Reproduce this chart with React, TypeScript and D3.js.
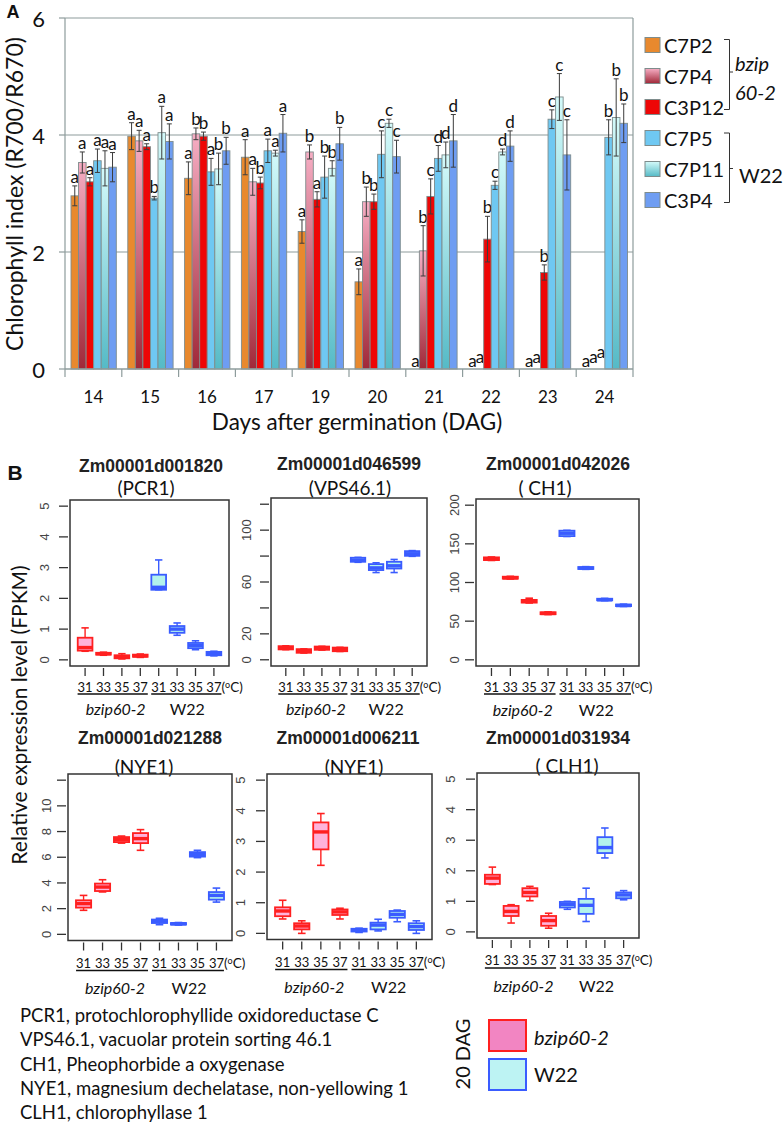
import React from 'react';
import * as d3 from 'd3';

// ---------- Panel A data ----------
const days = ['14', '15', '16', '17', '19', '20', '21', '22', '23', '24'];
const lineNames = ['C7P2', 'C7P4', 'C3P12', 'C7P5', 'C7P11', 'C3P4'];
const c7p2Mean = [2.96, 3.98, 3.26, 3.62, 2.35, 1.49, 0, 0, 0, 0];
const c7p2Err = [0.17, 0.23, 0.28, 0.3, 0.2, 0.22, 0, 0, 0, 0];
const c7p4Mean = [3.53, 3.9, 4.02, 3.2, 3.71, 2.86, 2.02, 0, 0, 0];
const c7p4Err = [0.18, 0.18, 0.1, 0.23, 0.12, 0.25, 0.43, 0, 0, 0];
const c3p12Mean = [3.2, 3.8, 3.98, 3.18, 2.9, 2.86, 2.95, 2.22, 1.65, 0];
const c3p12Err = [0.07, 0.05, 0.07, 0.1, 0.13, 0.13, 0.3, 0.39, 0.13, 0];
const c7p5Mean = [3.56, 2.92, 3.37, 3.73, 3.28, 3.67, 3.6, 3.14, 4.27, 3.96];
const c7p5Err = [0.2, 0.03, 0.23, 0.2, 0.36, 0.4, 0.22, 0.07, 0.16, 0.3];
const c7p11Mean = [3.43, 4.04, 3.42, 3.69, 3.43, 4.2, 3.66, 3.71, 4.65, 4.3];
const c7p11Err = [0.3, 0.45, 0.27, 0.05, 0.13, 0.07, 0.22, 0.05, 0.4, 0.66];
const c3p4Mean = [3.45, 3.89, 3.73, 4.03, 3.85, 3.63, 3.9, 3.81, 3.66, 4.2];
const c3p4Err = [0.25, 0.3, 0.23, 0.32, 0.28, 0.28, 0.45, 0.26, 0.6, 0.33];
const c7p2Sig = ['a', 'a', 'a', 'a', 'a', 'a', 'a', 'a', 'a', 'a'];
const c7p4Sig = ['a', 'a', 'b', 'a', 'b', 'b', 'b', 'a', 'a', 'a'];
const c3p12Sig = ['a', 'a', 'b', 'b', 'a', 'b', 'c', 'b', 'b', 'a'];
const c7p5Sig = ['a', 'b', 'a', 'a', 'b', 'c', 'd', 'c', 'c', 'b'];
const c7p11Sig = ['a', 'a', 'b', 'a', 'b', 'c', 'd', 'd', 'c', 'b'];
const c3p4Sig = ['a', 'a', 'b', 'a', 'b', 'c', 'd', 'd', 'c', 'b'];
const yTicksA = [0, 2, 4, 6];

const means = [c7p2Mean, c7p4Mean, c3p12Mean, c7p5Mean, c7p11Mean, c3p4Mean];
const errs = [c7p2Err, c7p4Err, c3p12Err, c7p5Err, c7p11Err, c3p4Err];
const sigs = [c7p2Sig, c7p4Sig, c3p12Sig, c7p5Sig, c7p11Sig, c3p4Sig];

// ---------- Panel B data: [whiskerLow, q1, median, q3, whiskerHigh] ----------
const temps = ['31', '33', '35', '37', '31', '33', '35', '37'];
const pcr1 = [
  [0.28, 0.3, 0.4, 0.72, 1.04], [0.15, 0.17, 0.2, 0.23, 0.25], [0.03, 0.05, 0.1, 0.15, 0.2], [0.08, 0.1, 0.13, 0.17, 0.19],
  [2.28, 2.28, 2.36, 2.77, 3.25], [0.8, 0.88, 1.0, 1.1, 1.2], [0.33, 0.38, 0.47, 0.55, 0.62], [0.13, 0.15, 0.2, 0.26, 0.28],
];
const vps461 = [
  [7.8, 8.0, 9.3, 10.5, 10.8], [5.2, 5.4, 6.9, 8.2, 8.4], [7.5, 7.7, 9.0, 10.2, 10.4], [6.4, 6.6, 8.0, 9.4, 9.6],
  [75.2, 75.6, 76.9, 78.7, 79.0], [67.3, 69.2, 70.9, 73.8, 74.8], [67.3, 70.4, 72.5, 75.6, 77.4], [79.8, 80.2, 81.8, 83.8, 84.2],
];
const ch1 = [
  [128.5, 129, 130.6, 132.5, 133], [104.5, 105, 106, 107.5, 108], [73.5, 74, 75.6, 77.5, 79.7], [58.5, 59, 60, 61.5, 62],
  [159.5, 160, 163.7, 167, 167.5], [117, 117.5, 118.5, 120, 120.5], [76.5, 77, 77.6, 79, 79.5], [69, 69.5, 70.2, 71.5, 72],
];
const nye1a = [
  [1.87, 2.08, 2.39, 2.65, 3.03], [3.3, 3.37, 3.68, 3.95, 4.25], [7.1, 7.18, 7.37, 7.57, 7.65], [6.54, 7.1, 7.45, 7.88, 8.15],
  [0.75, 0.88, 1.02, 1.15, 1.25], [0.72, 0.76, 0.82, 0.88, 0.92], [5.97, 6.05, 6.23, 6.4, 6.54], [2.51, 2.7, 3.03, 3.29, 3.6],
];
const nye1b = [
  [0.47, 0.56, 0.73, 0.85, 1.08], [0.0, 0.13, 0.24, 0.33, 0.41], [2.22, 2.74, 3.31, 3.62, 3.91], [0.47, 0.6, 0.7, 0.78, 0.82],
  [0.03, 0.06, 0.11, 0.15, 0.17], [0.08, 0.13, 0.27, 0.35, 0.46], [0.38, 0.51, 0.62, 0.73, 0.76], [0.0, 0.11, 0.22, 0.33, 0.41],
];
const clh1 = [
  [1.55, 1.57, 1.76, 1.87, 2.12], [0.29, 0.52, 0.67, 0.85, 0.89], [1.02, 1.16, 1.29, 1.43, 1.49], [0.12, 0.2, 0.37, 0.52, 0.61],
  [0.74, 0.8, 0.9, 0.98, 1.0], [0.34, 0.59, 0.87, 1.08, 1.43], [2.42, 2.58, 2.76, 3.1, 3.4], [1.05, 1.1, 1.21, 1.29, 1.35],
];
const ticks5 = [0, 1, 2, 3, 4, 5];
const ticksVps = [0, 20, 40, 60, 80, 100, 120];
const labelsVps = [0, 20, 60, 100];
const ticksCh1 = [0, 50, 100, 150, 200];
const ticksNye = [0, 2, 4, 6, 8, 10, 12];
const labelsNye = [0, 2, 4, 6, 8, 10];
const geneNotes = [
  'PCR1, protochlorophyllide oxidoreductase C',
  'VPS46.1, vacuolar protein sorting 46.1',
  'CH1, Pheophorbide a oxygenase',
  'NYE1, magnesium dechelatase, non-yellowing 1',
  'CLH1, chlorophyllase 1',
];

const FC = 'Lato, "Open Sans", sans-serif';
const FR = '"Liberation Sans", Arial, sans-serif';
const barFills = ['#E8892E', 'url(#gPink)', '#EE0606', '#6FC8F2', 'url(#gCyan)', '#6E9DF2'];
const RED = '#FF2020';
const PINK = '#FFB3DA';
const BLUE = '#3A5CFF';
const CYAN = '#B3F3EC';

function PanelA() {
  const x = d3.scaleBand<string>().domain(days).range([65, 633]);
  const y = d3.scaleLinear().domain([0, 6]).range([369, 18]);
  const bw = 7.55;
  const off = 6;
  const grid = '#8E9C9C';
  const els: any[] = [];
  days.forEach((d, di) => {
    let zeroK = 0;
    means.forEach((m, si) => {
      const v = m[di];
      const bx = (x(d) as number) + off + si * bw;
      const cx = bx + bw / 2;
      if (v > 0) {
        els.push(<rect key={`b${di}-${si}`} x={bx} y={y(v)} width={bw} height={y(0) - y(v)} fill={barFills[si]} stroke="#7E8C8C" strokeWidth={0.9} />);
        const e = errs[si][di];
        els.push(
          <g key={`e${di}-${si}`} stroke="#3C3C3C" strokeWidth={1}>
            <line x1={cx} x2={cx} y1={y(v + e)} y2={y(v - e)} />
            <line x1={cx - 2.5} x2={cx + 2.5} y1={y(v + e)} y2={y(v + e)} />
            <line x1={cx - 2.5} x2={cx + 2.5} y1={y(v - e)} y2={y(v - e)} />
          </g>
        );
        els.push(<text key={`t${di}-${si}`} x={cx} y={y(v + e) - 3} textAnchor="middle" fontFamily={FC} fontSize={17} fill="#111">{sigs[si][di]}</text>);
      } else {
        els.push(<text key={`t${di}-${si}`} x={cx} y={367 - zeroK * 4.5} textAnchor="middle" fontFamily={FC} fontSize={17} fill="#111">{sigs[si][di]}</text>);
        zeroK++;
      }
    });
  });
  const legY = (i: number) => 45 + i * 31;
  return (
    <g>
      <defs>
        <linearGradient id="gPink" x1="0" y1="0" x2="0" y2="1">
          <stop offset="0" stopColor="#F6AEC4" />
          <stop offset="1" stopColor="#A02838" />
        </linearGradient>
        <linearGradient id="gCyan" x1="0" y1="0" x2="0" y2="1">
          <stop offset="0" stopColor="#D4FAFA" />
          <stop offset="1" stopColor="#55BAC6" />
        </linearGradient>
      </defs>
      {yTicksA.filter((t) => t > 0).map((t) => (
        <line key={`g${t}`} x1={65} x2={633} y1={y(t)} y2={y(t)} stroke={grid} strokeWidth={1.2} />
      ))}
      <line x1={65} x2={65} y1={y(6)} y2={y(0)} stroke={grid} strokeWidth={1.2} />
      <line x1={633} x2={633} y1={y(6)} y2={y(0)} stroke={grid} strokeWidth={1.2} />
      {els}
      <line x1={65} x2={633} y1={y(0)} y2={y(0)} stroke={grid} strokeWidth={1.4} />
      {yTicksA.map((t) => (
        <g key={`yt${t}`}>
          <line x1={59} x2={65} y1={y(t)} y2={y(t)} stroke={grid} strokeWidth={1.2} />
          <text x={45} y={y(t)} textAnchor="end" dominantBaseline="central" fontFamily={FC} fontSize={22} fill="#111">{t}</text>
        </g>
      ))}
      {days.map((d) => (
        <line key={`xt${d}`} x1={x(d) as number} x2={x(d) as number} y1={369} y2={377} stroke={grid} strokeWidth={1.2} />
      ))}
      <line x1={633} x2={633} y1={369} y2={377} stroke={grid} strokeWidth={1.2} />
      {days.map((d) => (
        <text key={`xl${d}`} x={(x(d) as number) + x.bandwidth() / 2} y={396} textAnchor="middle" dominantBaseline="central" fontFamily={FC} fontSize={17} fill="#111">{d}</text>
      ))}
      <text x={357} y={421} textAnchor="middle" dominantBaseline="central" fontFamily={FC} fontSize={22.5} fill="#111">Days after germination (DAG)</text>
      <text transform="translate(14,194) rotate(-90)" textAnchor="middle" dominantBaseline="central" fontFamily={FC} fontSize={23} fill="#111">Chlorophyll index (R700/R670)</text>
      <text x={13} y={12} textAnchor="middle" dominantBaseline="central" fontFamily={FR} fontWeight="bold" fontSize={18} fill="#111">A</text>
      {lineNames.map((n, i) => (
        <g key={`lg${n}`}>
          <rect x={645} y={legY(i) - 7.5} width={15} height={15} fill={barFills[i]} stroke="#7E8C8C" strokeWidth={1} />
          <text x={664} y={legY(i)} dominantBaseline="central" fontFamily={FC} fontSize={20} fill="#111">{n}</text>
        </g>
      ))}
      <path d="M724,39.5 H729.5 V109.5 H724 M729.5,72 H733" fill="none" stroke="#333" strokeWidth={1} />
      <path d="M724,133 H729.5 V202.5 H724 M729.5,168.5 H733" fill="none" stroke="#333" strokeWidth={1} />
      <text x={735} y={63} dominantBaseline="central" fontFamily={FC} fontStyle="italic" fontSize={20} fill="#111">bzip</text>
      <text x={735} y={92} dominantBaseline="central" fontFamily={FC} fontStyle="italic" fontSize={20} fill="#111">60-2</text>
      <text x={739} y={175} dominantBaseline="central" fontFamily={FC} fontSize={20} fill="#111">W22</text>
    </g>
  );
}

type PanelCfg = {
  data: number[][]; title: string; sub: string; titleX: number; subX: number; titleY: number; subY: number;
  x0: number; x1: number; y0: number; y1: number; dom: [number, number]; ticks: number[]; labels: number[]; labOff: number;
  labDy: number; lineDy: number; grpDy: number;
};

const panels: PanelCfg[] = [
  { data: pcr1, title: 'Zm00001d001820', sub: '(PCR1)', titleX: 151, subX: 146, titleY: 466, subY: 487, x0: 70, x1: 229, y0: 500, y1: 666, dom: [-0.2, 5.2], ticks: ticks5, labels: ticks5, labOff: 26, labDy: 21, lineDy: 28, grpDy: 42 },
  { data: vps461, title: 'Zm00001d046599', sub: '(VPS46.1)', titleX: 349, subX: 350, titleY: 464, subY: 487, x0: 271, x1: 427, y0: 498, y1: 666, dom: [-4.8, 124.8], ticks: ticksVps, labels: labelsVps, labOff: 25, labDy: 21, lineDy: 28, grpDy: 42 },
  { data: ch1, title: 'Zm00001d042026', sub: '( CH1)', titleX: 558, subX: 545, titleY: 464, subY: 487, x0: 476, x1: 639, y0: 499, y1: 666, dom: [-8, 208], ticks: ticksCh1, labels: ticksCh1, labOff: 22, labDy: 21, lineDy: 28, grpDy: 43 },
  { data: nye1a, title: 'Zm00001d021288', sub: '(NYE1)', titleX: 150, subX: 144, titleY: 738, subY: 766, x0: 68, x1: 232, y0: 774, y1: 940.5, dom: [-0.48, 12.48], ticks: ticksNye, labels: labelsNye, labOff: 22, labDy: 22, lineDy: 30, grpDy: 47 },
  { data: nye1b, title: 'Zm00001d006211', sub: '(NYE1)', titleX: 348, subX: 354, titleY: 738, subY: 766, x0: 267, x1: 432, y0: 774, y1: 939.5, dom: [-0.2, 5.2], ticks: ticks5, labels: ticks5, labOff: 27, labDy: 22, lineDy: 30, grpDy: 47 },
  { data: clh1, title: 'Zm00001d031934', sub: '( CLH1)', titleX: 558, subX: 567, titleY: 738, subY: 765, x0: 477, x1: 639, y0: 773, y1: 938, dom: [-0.2, 5.2], ticks: ticks5, labels: ticks5, labOff: 27, labDy: 22, lineDy: 30, grpDy: 47 },
];

function BoxPanel({ p }: { p: PanelCfg }) {
  const x = d3.scaleLinear().domain([0.18, 8.82]).range([p.x0, p.x1]);
  const y = d3.scaleLinear().domain(p.dom).range([p.y1, p.y0]);
  const hw = x(1.4) - x(1);
  return (
    <g>
      <text x={p.titleX} y={p.titleY} textAnchor="middle" dominantBaseline="central" fontFamily={FR} fontWeight="bold" fontSize={17.5} fill="#222">{p.title}</text>
      <text x={p.subX} y={p.subY} textAnchor="middle" dominantBaseline="central" fontFamily={FC} fontSize={19} fill="#111">{p.sub}</text>
      {p.data.map((b, i) => {
        const cx = x(i + 1);
        const stroke = i < 4 ? RED : BLUE;
        const fill = i < 4 ? PINK : CYAN;
        const [lo, q1, md, q3, hi] = b;
        return (
          <g key={i} stroke={stroke}>
            <line x1={cx} x2={cx} y1={y(hi)} y2={y(q3)} strokeWidth={1.4} />
            <line x1={cx} x2={cx} y1={y(q1)} y2={y(lo)} strokeWidth={1.4} />
            <line x1={cx - hw / 2} x2={cx + hw / 2} y1={y(hi)} y2={y(hi)} strokeWidth={1.6} />
            <line x1={cx - hw / 2} x2={cx + hw / 2} y1={y(lo)} y2={y(lo)} strokeWidth={1.6} />
            <rect x={cx - hw} y={y(q3)} width={2 * hw} height={Math.max(0.5, y(q1) - y(q3))} fill={fill} strokeWidth={1.8} />
            <line x1={cx - hw} x2={cx + hw} y1={y(md)} y2={y(md)} strokeWidth={3.4} />
          </g>
        );
      })}
      <rect x={p.x0} y={p.y0} width={p.x1 - p.x0} height={p.y1 - p.y0} fill="none" stroke="#333" strokeWidth={1.5} />
      {p.ticks.map((t) => (
        <line key={`yt${t}`} x1={p.x0 - 11} x2={p.x0 - 2} y1={y(t)} y2={y(t)} stroke="#333" strokeWidth={1.3} />
      ))}
      {p.labels.map((t) => (
        <text key={`yl${t}`} transform={`translate(${p.x0 - p.labOff},${y(t)}) rotate(-90)`} textAnchor="middle" dominantBaseline="central" fontFamily={FR} fontSize={13} fill="#444">{t}</text>
      ))}
      {temps.map((t, i) => (
        <g key={`xt${i}`}>
          <line x1={x(i + 1)} x2={x(i + 1)} y1={p.y1 + 2} y2={p.y1 + 10} stroke="#333" strokeWidth={1.3} />
          <text x={x(i + 1)} y={p.y1 + p.labDy} textAnchor="middle" dominantBaseline="central" fontFamily={FC} fontSize={13} fill="#111">{t}</text>
        </g>
      ))}
      <text x={x(8) + 7.5} y={p.y1 + p.labDy} dominantBaseline="central" fontFamily={FC} fontSize={13.5} fill="#111">
        (<tspan fontSize={9} dy={-3}>o</tspan><tspan dy={3}>C)</tspan>
      </text>
      <line x1={x(1) - 7.5} x2={x(4) + 7.5} y1={p.y1 + p.lineDy} y2={p.y1 + p.lineDy} stroke="#111" strokeWidth={1.6} />
      <line x1={x(5) - 7.5} x2={x(8) + 7.5} y1={p.y1 + p.lineDy} y2={p.y1 + p.lineDy} stroke="#111" strokeWidth={1.6} />
      <text x={(x(1) + x(4)) / 2 + 3} y={p.y1 + p.grpDy} textAnchor="middle" dominantBaseline="central" fontFamily={FC} fontStyle="italic" fontSize={16} fill="#111">bzip60-2</text>
      <text x={(x(5) + x(8)) / 2 + 1} y={p.y1 + p.grpDy} textAnchor="middle" dominantBaseline="central" fontFamily={FC} fontSize={16} fill="#111">W22</text>
    </g>
  );
}

function PanelB() {
  return (
    <g>
      <text x={15} y={472} textAnchor="middle" dominantBaseline="central" fontFamily={FR} fontWeight="bold" fontSize={21} fill="#111">B</text>
      <text transform="translate(18,715) rotate(-90)" textAnchor="middle" dominantBaseline="central" fontFamily={FC} fontSize={21} fill="#111">Relative expression level (FPKM)</text>
      {panels.map((p, i) => <BoxPanel key={i} p={p} />)}
      {geneNotes.map((n, i) => (
        <text key={`n${i}`} x={20} y={1015 + i * 24.3} dominantBaseline="central" fontFamily={FC} fontSize={18.5} fill="#111">{n}</text>
      ))}
      <text transform="translate(462,1054) rotate(-90)" textAnchor="middle" dominantBaseline="central" fontFamily={FC} fontSize={20} fill="#111">20 DAG</text>
      <rect x={489} y={1020} width={37} height={31} fill="#F285C2" stroke={RED} strokeWidth={2} />
      <rect x={489} y={1059} width={37} height={31} fill="#BDF3F3" stroke={BLUE} strokeWidth={2} />
      <text x={534} y={1037} dominantBaseline="central" fontFamily={FC} fontStyle="italic" fontSize={20} fill="#111">bzip60-2</text>
      <text x={534} y={1074} dominantBaseline="central" fontFamily={FC} fontSize={20} fill="#111">W22</text>
    </g>
  );
}

export default function App() {
  return (
    <svg width={783} height={1124} viewBox="0 0 783 1124" style={{ position: 'absolute', left: 0, top: 0, background: '#fff' }}>
      <rect x={0} y={0} width={783} height={1124} fill="#fff" />
      <PanelA />
      <PanelB />
    </svg>
  );
}
